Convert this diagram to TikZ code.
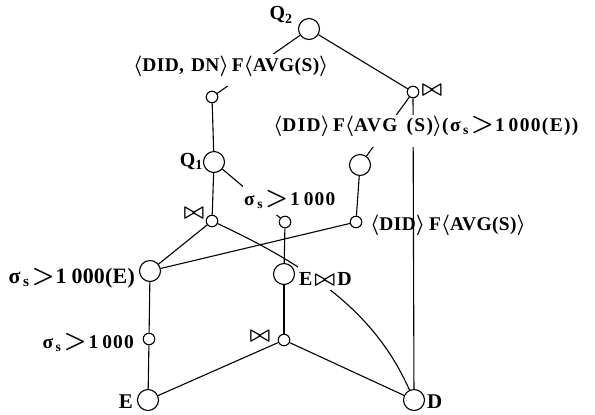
\documentclass[tikz,border=0pt]{standalone}
\usepackage{fontspec}
\usepackage{graphicx}
\setmainfont{Liberation Serif}
\newcommand\myla{\ensuremath{\langle}}
\newcommand\myra{\ensuremath{\rangle}}
\newcommand\mysig{σ\hspace{2.5bp}\textsubscript{s}\hspace{2bp}}
\newcommand\mygt{\scalebox{1.25}{$>$}}
\newcommand\myjn{\scalebox{1.05}{$\bowtie$}}
\newcommand\lblfont[2]{\fontsize{#1}{#1}\selectfont\bfseries\boldmath\addfontfeature{LetterSpace=#2}}
\begin{document}
\begin{tikzpicture}[x=1bp,y=-1bp,
  conn/.style={line width=1.1bp},
  bignode/.style={circle,draw,line width=1.1bp,minimum size=21bp,inner sep=0pt},
  smallnode/.style={circle,draw,line width=1.1bp,minimum size=11.5bp,inner sep=0pt},
  lbl/.style={inner sep=0pt,font={\lblfont{19.5}{2}}},
  masked/.style={fill=white,inner xsep=1bp,inner ysep=0pt}
]
\useasboundingbox[fill=white] (0,0) rectangle (595,414);
% operator nodes
\node[bignode]   (Q2) at (309,29) {};
\node[smallnode] (A)  at (212,97) {};
\node[smallnode] (B)  at (413,92) {};
\node[bignode]   (C)  at (360,165) {};
\node[bignode]   (Q1) at (214,162) {};
\node[smallnode] (S2) at (285,222) {};
\node[smallnode] (J1) at (212,221) {};
\node[smallnode] (F)  at (356,222) {};
\node[bignode]   (G)  at (150,271) {};
\node[bignode]   (H)  at (284,274) {};
\node[smallnode] (J2) at (284,340) {};
\node[smallnode] (S1) at (149,339) {};
\node[bignode]   (E)  at (148,400) {};
\node[bignode]   (D)  at (414,400) {};
% connectors
\draw[conn] (Q2) -- (A);
\draw[conn] (Q2) -- (B);
\draw[conn] (B) -- (C);
\draw[conn] (B) -- (D);
\draw[conn] (A) -- (Q1);
\draw[conn] (Q1) -- (S2);
\draw[conn] (Q1) -- (J1);
\draw[conn] (C) -- (F);
\draw[conn] (F) -- (G);
\draw[conn] (J1) -- (G);
\draw[conn] (J1) .. controls (335,278) and (382,329) .. (D);
\draw[conn] (S2) -- (H);
\draw[conn] (H) -- (J2);
\draw[conn] (G) -- (S1);
\draw[conn] (S1) -- (E);
\draw[conn] (J2) -- (E);
\draw[conn] (J2) -- (D);
% labels
\node[lbl,font={\lblfont{20}{0}}] (lQ2) at (281,15) {Q\textsubscript{2}};
\node[lbl,anchor=base east,font={\lblfont{20}{0}}] (lQ1) at (203,166) {Q\textsubscript{1}};
\node[lbl,masked,anchor=base west,text height=18bp,text depth=14bp] (l1) at (132,71.5)
  {\myla DID,\hspace{7bp}DN\myra\hspace{3bp}F\myla AVG(S)\myra};
\node[lbl,masked,anchor=base west,text height=16bp,text depth=16bp,font={\lblfont{19.5}{7}}] (l2) at (272,131)
  {\myla DID\myra\hspace{3bp}F\myla AVG\hspace{9bp}(S)\myra(\mysig\mygt\hspace{1bp}1\hspace{4bp}000(E))};
\node[lbl,masked,anchor=base west,text height=20bp,text depth=10bp,font={\lblfont{19.5}{6}}] (l3) at (243,205)
  {\mysig\mygt\hspace{2bp}1\hspace{4bp}000};
\node[lbl,anchor=base west] (l5) at (370,230) {\myla DID\myra\hspace{4bp}F\myla AVG(S)\myra};
\node[lbl,anchor=base east,font={\lblfont{22}{1}}] (l6) at (135,283) {\mysig\mygt\hspace{1bp}1\hspace{5bp}000(E)};
\node[lbl,anchor=base east,font={\lblfont{19.5}{6}}] (l7) at (134,348) {\mysig\mygt\hspace{2bp}1\hspace{4bp}000};
\node[lbl,masked,anchor=base west,text height=27bp,text depth=5bp,font={\lblfont{20}{0}}] (lH) at (298,285) {E\hspace{2bp}\myjn\hspace{2bp}D};
\node[lbl,anchor=base east,font={\lblfont{21}{0}}] (lE) at (133,408) {E};
\node[lbl,anchor=base west,font={\lblfont{21}{0}}] (lD) at (427,408) {D};
\node[lbl] (jB) at (432,90) {\myjn};
\node[lbl] (jJ1) at (194,213) {\myjn};
\node[lbl] (jJ2) at (260,336) {\myjn};
\end{tikzpicture}
\end{document}
